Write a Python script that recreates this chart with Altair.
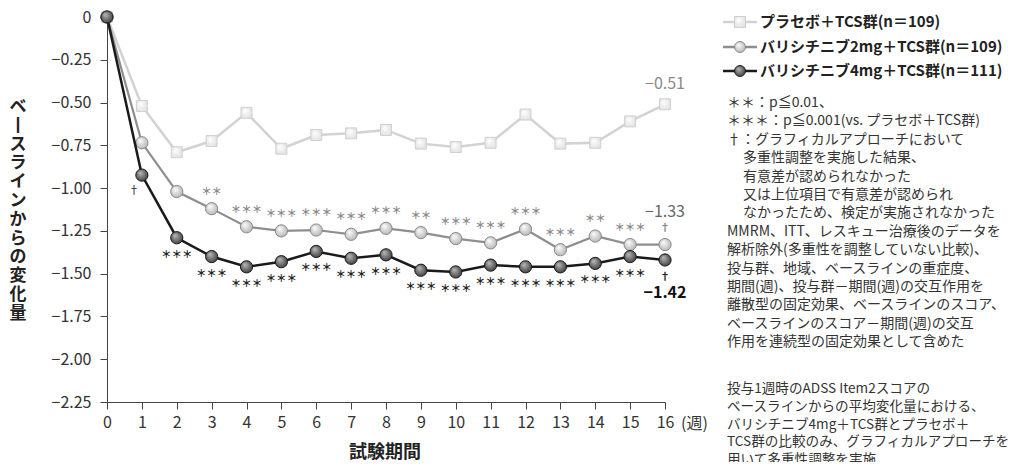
import altair as alt
import pandas as pd

# ---------------- data ----------------
weeks = list(range(17))
placebo = [0, -0.52, -0.79, -0.725, -0.56, -0.77, -0.69, -0.68, -0.66, -0.74,
           -0.76, -0.735, -0.57, -0.74, -0.735, -0.61, -0.51]
bari2 = [0, -0.735, -1.02, -1.12, -1.226, -1.25, -1.245, -1.27, -1.235, -1.26,
         -1.295, -1.32, -1.24, -1.36, -1.28, -1.33, -1.33]
bari4 = [0, -0.924, -1.29, -1.40, -1.46, -1.43, -1.37, -1.41, -1.39, -1.48,
         -1.49, -1.45, -1.46, -1.46, -1.44, -1.40, -1.42]
sig2 = ["", "", "", "＊＊", "＊＊＊", "＊＊＊", "＊＊＊", "＊＊＊", "＊＊＊", "＊＊",
        "＊＊＊", "＊＊＊", "＊＊＊", "＊＊＊", "＊＊", "＊＊＊", "†"]
sig4 = ["", "†", "＊＊＊", "＊＊＊", "＊＊＊", "＊＊＊", "＊＊＊", "＊＊＊", "＊＊＊",
        "＊＊＊", "＊＊＊", "＊＊＊", "＊＊＊", "＊＊＊", "＊＊＊", "＊＊＊", "†"]
end_labels = ["−0.51", "−1.33", "−1.42"]
y_ticks = [0, -0.25, -0.5, -0.75, -1.0, -1.25, -1.5, -1.75, -2.0, -2.25]
legend_labels = ["プラセボ＋TCS群(n＝109)",
                 "バリシチニブ2mg＋TCS群(n＝109)",
                 "バリシチニブ4mg＋TCS群(n＝111)"]
notes_head = [
    "＊＊：p≦0.01、",
    "＊＊＊：p≦0.001(vs. プラセボ＋TCS群)",
    "†：グラフィカルアプローチにおいて",
]
notes_indent = [
    "多重性調整を実施した結果、",
    "有意差が認められなかった",
    "又は上位項目で有意差が認められ",
    "なかったため、検定が実施されなかった",
]
notes_model = [
    "MMRM、ITT、レスキュー治療後のデータを",
    "解析除外(多重性を調整していない比較)、",
    "投与群、地域、ベースラインの重症度、",
    "期間(週)、投与群－期間(週)の交互作用を",
    "離散型の固定効果、ベースラインのスコア、",
    "ベースラインのスコア－期間(週)の交互",
    "作用を連続型の固定効果として含めた",
]
notes_block2 = [
    "投与1週時のADSS Item2スコアの",
    "ベースラインからの平均変化量における、",
    "バリシチニブ4mg＋TCS群とプラセボ＋",
    "TCS群の比較のみ、グラフィカルアプローチを",
    "用いて多重性調整を実施",
]
y_title = "ベースラインからの変化量"
x_title = "試験期間"
x_unit = "(週)"

# ---------------- style / layout ----------------
FONT = "Noto Sans CJK JP"
W, H = 558, 385
C_PLA_LINE, C_B2_LINE, C_B4_LINE = "#d2d2d2", "#8e8e8e", "#1a1a1a"


def grad(c0, c1):
    return alt.RadialGradient(
        gradient="radial", x1=0.35, y1=0.3, r1=0.0, x2=0.5, y2=0.5, r2=0.65,
        stops=[alt.GradientStop(offset=0, color=c0),
               alt.GradientStop(offset=1, color=c1)])


G_PLA = grad("#ffffff", "#dedede")
G_B2 = grad("#ffffff", "#a9a9a9")
G_B4 = grad("#bdbdbd", "#2a2a2a")

df_p = pd.DataFrame({"week": weeks, "value": placebo})
df_2 = pd.DataFrame({"week": weeks, "value": bari2, "sig": sig2})
df_4 = pd.DataFrame({"week": weeks, "value": bari4, "sig": sig4})

xs = alt.Scale(domain=[0, 16], nice=False, zero=False)
ys = alt.Scale(domain=[-2.25, 0], nice=False)
X = alt.X("week:Q", scale=xs,
          axis=alt.Axis(values=weeks, format="d", title=None, grid=False,
                        tickSize=7, labelPadding=5, labelFontSize=16,
                        labelFont=FONT, labelColor="#333", domainColor="#444",
                        tickColor="#444", labelFlush=False))
Y = alt.Y("value:Q", scale=ys,
          axis=alt.Axis(values=y_ticks, title=None, grid=False, tickSize=7,
                        labelPadding=9, labelFontSize=16, labelFont=FONT,
                        labelColor="#333", domainColor="#444", tickColor="#444",
                        labelFlush=False,
                        labelExpr="datum.value == 0 ? '0' : '−' + format(-datum.value, '.2f')"))

layers = []
# series lines + markers
for d, lc, lw, shape, size, g, sc in [
        (df_p, C_PLA_LINE, 2.5, "square", 120, G_PLA, "#d0d0d0"),
        (df_2, C_B2_LINE, 2.2, "circle", 150, G_B2, "#8a8a8a"),
        (df_4, C_B4_LINE, 2.5, "circle", 150, G_B4, "#1a1a1a")]:
    base = alt.Chart(d).encode(x=X, y=Y)
    layers.append(base.mark_line(color=lc, strokeWidth=lw))
    layers.append(base.mark_point(shape=shape, size=size, filled=True, fill=g,
                                  stroke=sc, strokeWidth=1, opacity=1))

# significance marks
layers.append(alt.Chart(df_2).transform_filter("datum.sig != ''").mark_text(
    font=FONT, fontSize=10.5, fontWeight="bold", color="#8a8a8a", dy=-17,
    baseline="middle").encode(x=X, y=Y, text="sig:N"))
layers.append(alt.Chart(df_4).transform_filter("datum.sig != '' && datum.week > 1").mark_text(
    font=FONT, fontSize=10.5, fontWeight="bold", color="#222", dy=17,
    baseline="middle").encode(x=X, y=Y, text="sig:N"))
layers.append(alt.Chart(df_4).transform_filter("datum.week == 1").mark_text(
    font=FONT, fontSize=11, color="#222", dy=16, dx=-8, baseline="middle"
).encode(x=X, y=Y, text="sig:N"))

# end labels
df_end = pd.DataFrame({"week": [16, 16, 16],
                       "value": [placebo[-1], bari2[-1], bari4[-1]],
                       "label": end_labels})
for i, (dy, col, wt) in enumerate([(-20, "#8a8a8a", "normal"),
                                   (-33, "#666666", "normal"),
                                   (33, "#111111", "bold")]):
    layers.append(alt.Chart(df_end.iloc[[i]]).mark_text(
        font=FONT, fontSize=16, color=col, fontWeight=wt, dy=dy, baseline="middle"
    ).encode(x=X, y=Y, text="label:N"))

one = alt.Data(values=[{}])

# legend
leg_rows = [5, 30, 54]
for lab, ry, lc, shape, g, sc in zip(
        legend_labels, leg_rows, [C_PLA_LINE, C_B2_LINE, C_B4_LINE],
        ["square", "circle", "circle"], [G_PLA, G_B2, G_B4],
        ["#d0d0d0", "#8a8a8a", "#1a1a1a"]):
    layers.append(alt.Chart(one).mark_rule(color=lc, strokeWidth=2.5).encode(
        x=alt.value(616), x2=alt.value(650), y=alt.value(ry)))
    layers.append(alt.Chart(one).mark_point(shape=shape, size=120, filled=True,
                                            fill=g, stroke=sc, strokeWidth=1,
                                            opacity=1).encode(
        x=alt.value(633), y=alt.value(ry)))
    layers.append(alt.Chart(one).mark_text(
        font=FONT, fontSize=15, fontWeight="bold", color="#222", align="left",
        baseline="middle").encode(x=alt.value(653), y=alt.value(ry),
                                  text=alt.value(lab)))

# notes
LH = 18.4
NX, NIND = 620, 636
top1 = 86
for lines, x0, k0 in [(notes_head, NX, 0), (notes_indent, NIND, 3),
                      (notes_model, NX, 7)]:
    layers.append(alt.Chart(one).mark_text(
        font=FONT, fontSize=14, color="#333", align="left", baseline="middle",
        lineBreak="\n", lineHeight=LH).encode(
        x=alt.value(x0), y=alt.value(top1 + k0 * LH),
        text=alt.value("\n".join(lines))))
layers.append(alt.Chart(one).mark_text(
    font=FONT, fontSize=13.6, color="#333", align="left", baseline="middle",
    lineBreak="\n", lineHeight=17.8).encode(
    x=alt.value(NX), y=alt.value(372), text=alt.value("\n".join(notes_block2))))

# axis titles / unit
layers.append(alt.Chart(one).mark_text(
    font=FONT, fontSize=16, color="#333", align="left", baseline="middle").encode(
    x=alt.value(W + 16), y=alt.value(H + 22), text=alt.value(x_unit)))
layers.append(alt.Chart(one).mark_text(
    font=FONT, fontSize=18, fontWeight="bold", color="#222", align="center",
    baseline="middle").encode(
    x=alt.value(278), y=alt.value(H + 51), text=alt.value(x_title)))
vert = "\n".join("丨" if ch == "ー" else ch for ch in y_title)
layers.append(alt.Chart(one).mark_text(
    font=FONT, fontSize=17, fontWeight="bold", color="#222", align="center",
    baseline="top", lineBreak="\n", lineHeight=18.8).encode(
    x=alt.value(-89), y=alt.value(82), text=alt.value(vert)))

chart = alt.layer(*layers).properties(
    width=W, height=H, autosize="none",
    padding={"left": 99, "top": 9, "right": 347, "bottom": 60},
    background="white"
).configure_view(stroke=None)

chart.save("out.html", embed_options={"renderer": "svg", "actions": False})
